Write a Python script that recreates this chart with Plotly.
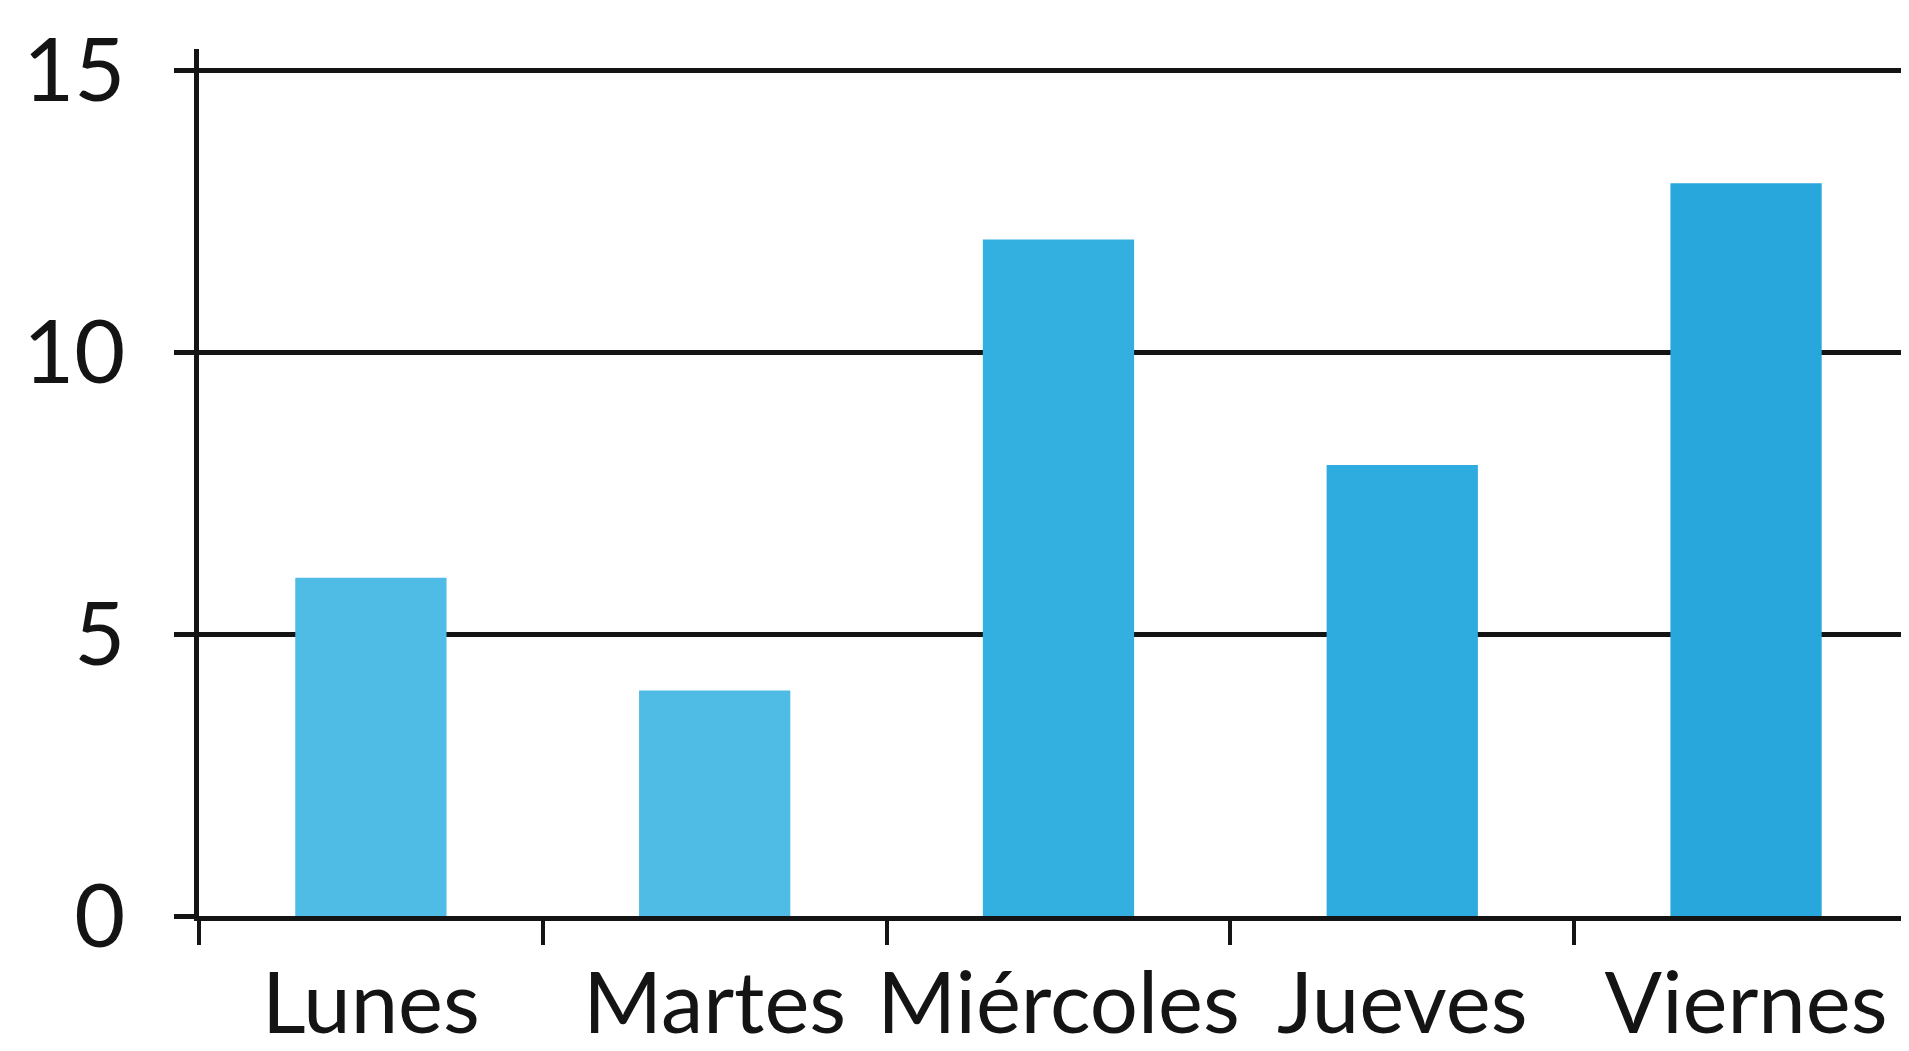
import plotly.graph_objects as go

days = ["Lunes", "Martes", "Miércoles", "Jueves", "Viernes"]
values = [6, 4, 12, 8, 13]
y_ticks = [0, 5, 10, 15]
bar_colors = ["#4FBCE6", "#4FBCE6", "#33AFE0", "#2FACDF", "#28A7DC"]

fig = go.Figure()
fig.add_trace(go.Bar(
    x=days, y=values,
    marker=dict(color=bar_colors, line=dict(width=0)),
    width=0.44,
    hoverinfo="x+y",
))

font = dict(family="Lato, Open Sans, sans-serif", size=88, color="#141414")
xfont = dict(family="Lato, Open Sans, sans-serif", size=85, color="#141414")

fig.update_layout(
    width=1901, height=1043,
    margin=dict(l=191, r=0, t=41, b=135, pad=0),
    paper_bgcolor="white", plot_bgcolor="white",
    showlegend=False,
    font=font,
    bargap=0.5,
)
fig.update_xaxes(
    type="category",
    range=[-0.5, 4.474],
    showline=True, linecolor="#141414", linewidth=5,
    ticks="outside", tickson="boundaries", ticklen=24, tickwidth=4, tickcolor="#141414",
    showgrid=False, zeroline=False,
    tickfont=xfont, tickangle=0, automargin=False,
    ticklabelstandoff=10,
)
fig.update_yaxes(
    range=[0, 15.38],
    tickvals=y_ticks, ticktext=[str(v) for v in y_ticks],
    showline=True, linecolor="#141414", linewidth=5,
    ticks="outside", ticklen=20, tickwidth=5, tickcolor="#141414",
    showgrid=True, gridcolor="#141414", gridwidth=5,
    zeroline=False,
    tickfont=font, automargin=False,
    ticklabelstandoff=31,
)
fig.write_html("out.html")
